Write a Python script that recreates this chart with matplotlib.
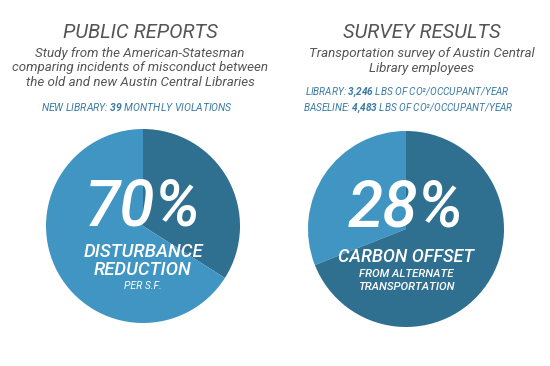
import matplotlib.pyplot as plt

# pie shares as drawn (light part, dark part)
reports_share = [66, 34]
survey_share = [31, 69]

reports_title = "PUBLIC REPORTS"
reports_sub = "Study from the American-Statesman\ncomparing incidents of misconduct between\nthe old and new Austin Central Libraries"
survey_title = "SURVEY RESULTS"
survey_sub = "Transportation survey of Austin Central\nLibrary employees"

new_library_violations = "39"
library_co2 = "3{,}246"
baseline_co2 = "4{,}483"

light = '#4095c2'
dark = '#2f6f90'
grey = '#555555'
blue_txt = '#3a7aa5'
font = ['Roboto', 'DejaVu Sans']

plt.rcParams['mathtext.fontset'] = 'custom'
plt.rcParams['mathtext.bf'] = 'Roboto:bold:italic'
plt.rcParams['mathtext.rm'] = 'Roboto:italic'

fig = plt.figure(figsize=(5.5, 3.66), dpi=100)
W, H = 550, 366


def pie_axes(cx, cy, r):
    ax = fig.add_axes([(cx - r) / W, (H - cy - r) / H, 2 * r / W, 2 * r / H])
    return ax


def fix(ax):
    ax.set_xlim(-1, 1)
    ax.set_ylim(-1, 1)
    ax.set_aspect('equal')
    ax.axis('off')


# left pie: dark wedge clockwise from 12 o'clock
ax1 = pie_axes(143, 226, 97)
ax1.pie(reports_share[::-1], colors=[dark, light], startangle=90, counterclock=False,
        radius=1, wedgeprops=dict(linewidth=0))
fix(ax1)
ax1.text(0, 0.19, "70%", ha='center', va='center', color='white', fontsize=46,
         style='italic', family=font, weight='medium')
ax1.text(0, -0.27, "DISTURBANCE", ha='center', va='center', color='white', fontsize=13.3,
         style='italic', family=font, weight='medium')
ax1.text(0, -0.45, "REDUCTION", ha='center', va='center', color='white', fontsize=13.3,
         style='italic', family=font, weight='medium')
ax1.text(0, -0.62, "PER S.F.", ha='center', va='center', color='white', fontsize=7.5,
         style='italic', family=font)

# right pie: light wedge counter-clockwise from 12 o'clock
ax2 = pie_axes(406, 229, 98)
ax2.pie(survey_share, colors=[light, dark], startangle=90, counterclock=True,
        radius=1, wedgeprops=dict(linewidth=0))
fix(ax2)
ax2.text(0, 0.21, "28%", ha='center', va='center', color='white', fontsize=46,
         style='italic', family=font, weight='medium')
ax2.text(0, -0.29, "CARBON OFFSET", ha='center', va='center', color='white', fontsize=13,
         style='italic', family=font, weight='medium')
ax2.text(0, -0.46, "FROM ALTERNATE", ha='center', va='center', color='white', fontsize=8.2,
         style='italic', family=font, weight='medium')
ax2.text(0, -0.59, "TRANSPORTATION", ha='center', va='center', color='white', fontsize=8.2,
         style='italic', family=font, weight='medium')

# headings
fig.text(140 / W, 1 - 33 / H, reports_title, ha='center', va='center', color=grey,
         fontsize=14.5, style='italic', family=font)
fig.text(140 / W, 1 - 68 / H, reports_sub, ha='center', va='center', color=grey,
         fontsize=9.6, style='italic', family=font, linespacing=1.2)
fig.text(422 / W, 1 - 33 / H, survey_title, ha='center', va='center', color=grey,
         fontsize=14.5, style='italic', family=font)
fig.text(422 / W, 1 - 61 / H, survey_sub, ha='center', va='center', color=grey,
         fontsize=9.6, style='italic', family=font, linespacing=1.2)

fig.text(137 / W, 1 - 107 / H,
         r"NEW LIBRARY: $\mathbf{" + new_library_violations + r"}$ MONTHLY VIOLATIONS",
         ha='center', va='center', color=blue_txt, fontsize=7.5, style='italic', family=font)
fig.text(407 / W, 1 - 92 / H,
         "LIBRARY: $\\mathbf{" + library_co2 + "}$ LBS OF CO²/OCCUPANT/YEAR",
         ha='center', va='center', color=blue_txt, fontsize=7.2, style='italic', family=font)
fig.text(408 / W, 1 - 108 / H,
         "BASELINE: $\\mathbf{" + baseline_co2 + "}$ LBS OF CO²/OCCUPANT/YEAR",
         ha='center', va='center', color=blue_txt, fontsize=7.2, style='italic', family=font)

fig.savefig('out.png', dpi=100, facecolor='white')
